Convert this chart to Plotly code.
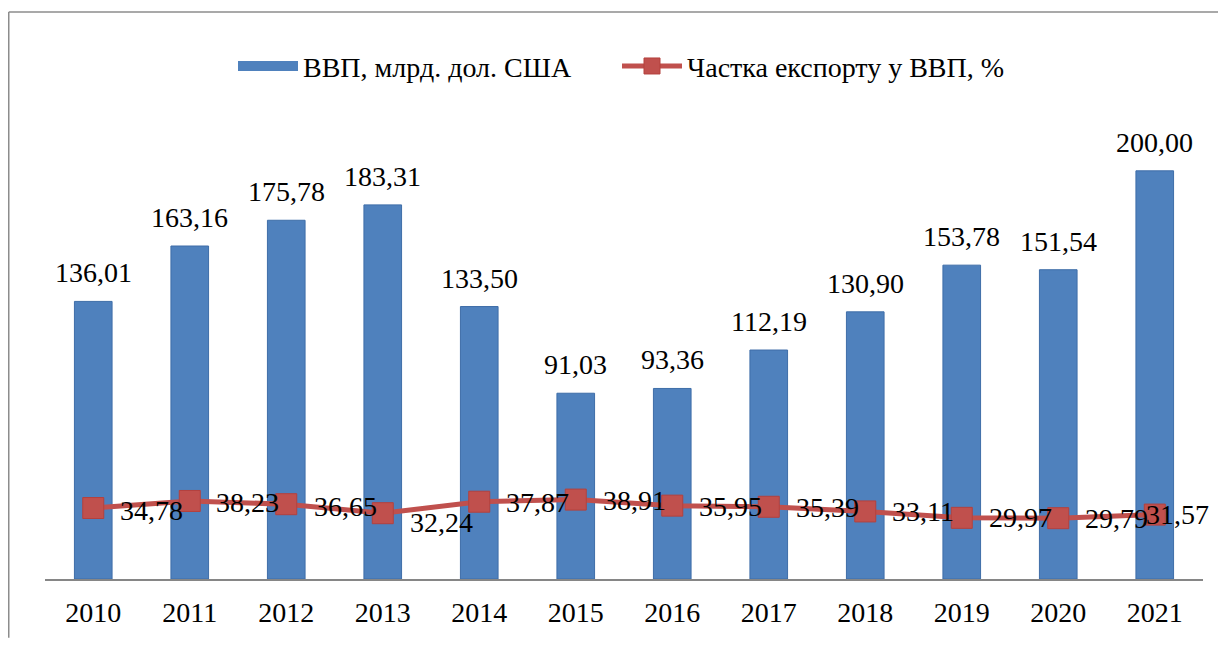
import plotly.graph_objects as go

years = ["2010", "2011", "2012", "2013", "2014", "2015", "2016", "2017", "2018", "2019", "2020", "2021"]
gdp = [136.01, 163.16, 175.78, 183.31, 133.50, 91.03, 93.36, 112.19, 130.90, 153.78, 151.54, 200.00]
export_share = [34.78, 38.23, 36.65, 32.24, 37.87, 38.91, 35.95, 35.39, 33.11, 29.97, 29.79, 31.57]

gdp_name = "ВВП, млрд. дол. США"
share_name = "Частка експорту у ВВП, %"

# label offsets (px) for the share labels, as placed in the original
share_label_dx = [25, 24, 26, 25, 25, 25, 25, 25, 25, 25, 25, -11]
share_label_dy = [-2, -2, -2, -9, -1, -1, -1, -1, 0, 0, 0, 0]

def fmt(v):
    return f"{v:.2f}".replace(".", ",")

FONT = "Liberation Serif, Times New Roman, serif"
FS = 28
BLUE = "#4F81BD"
RED = "#C0504D"

# figure pixel geometry (page has an 8px body margin)
W, H = 1210, 632
L, R, T, B = 37, 15, 122, 59
PW, PH = W - L - R, H - T - B

idx = list(range(len(years)))

fig = go.Figure()
fig.add_trace(go.Bar(
    x=idx, y=gdp, name=gdp_name, showlegend=False,
    marker=dict(color=BLUE, line=dict(color="#3E6DA8", width=1)),
    width=0.39, hoverinfo="y",
))
# legend entry for the bars (wide blue swatch)
fig.add_trace(go.Scatter(
    x=[None], y=[None], name=gdp_name, mode="lines",
    line=dict(color=BLUE, width=13), showlegend=True, hoverinfo="skip",
    legend="legend",
))
fig.add_trace(go.Scatter(
    x=idx, y=export_share, name=share_name,
    mode="lines+markers",
    line=dict(color=RED, width=5),
    marker=dict(symbol="square", size=21, color=RED, line=dict(color="#B4403D", width=1)),
    cliponaxis=False, legend="legend2",
))

for i, v in zip(idx, gdp):
    fig.add_annotation(x=i, y=v, text=fmt(v), showarrow=False,
                       yanchor="bottom", yshift=11,
                       font=dict(family=FONT, size=FS, color="black"))

for i, v, dx, dy in zip(idx, export_share, share_label_dx, share_label_dy):
    fig.add_annotation(x=i, y=v, text=fmt(v), showarrow=False,
                       xanchor="left", yanchor="middle", xshift=dx, yshift=dy,
                       font=dict(family=FONT, size=FS, color="black"))

# outer frame (top and left edges visible in the original)
fx0 = (0.75 - L) / PW
fy1 = 1 + (T - 3.5) / PH
frame = dict(color="#8C8C8C", width=1.5)
fig.add_shape(type="line", xref="paper", yref="paper", x0=fx0, x1=(W - L) / PW, y0=fy1, y1=fy1,
              line=frame, layer="below")
fig.add_shape(type="line", xref="paper", yref="paper", x0=fx0, x1=fx0, y0=-B / PH, y1=fy1,
              line=frame, layer="below")

leg_common = dict(orientation="h", xanchor="left", y=1 + (T - 58) / PH, yanchor="middle",
                  font=dict(family=FONT, size=FS, color="black"), itemwidth=60,
                  bgcolor="rgba(0,0,0,0)")

fig.update_layout(
    width=W, height=H,
    margin=dict(l=L, r=R, t=T, b=B),
    paper_bgcolor="white", plot_bgcolor="white",
    font=dict(family=FONT, size=FS, color="black"),
    showlegend=True,
    legend=dict(x=(225 - L) / PW, **leg_common),
    legend2=dict(x=(609 - L) / PW, **leg_common),
    xaxis=dict(range=[-0.5, 11.5], tickmode="array", tickvals=idx, ticktext=years,
               showline=True, linecolor="#868686", linewidth=1.5,
               ticks="", showgrid=False, zeroline=False,
               tickfont=dict(family=FONT, size=FS, color="black"),
               ticklabelstandoff=8),
    yaxis=dict(range=[0, 220], visible=False, showgrid=False, zeroline=False),
)

fig.write_html("out.html")
